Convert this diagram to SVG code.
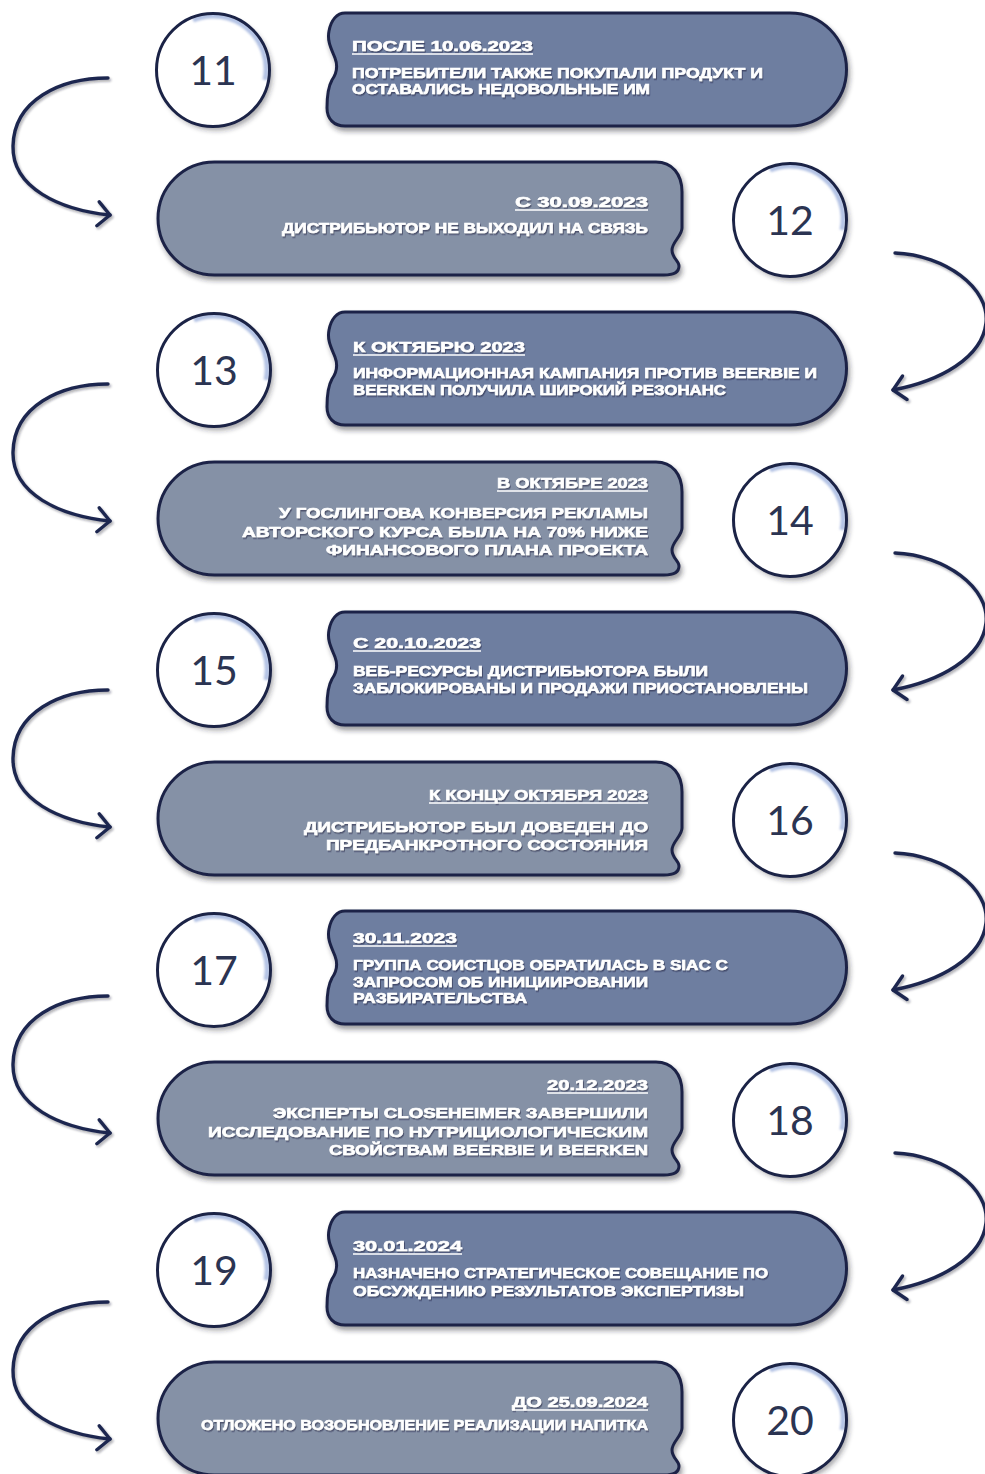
<svg xmlns="http://www.w3.org/2000/svg" xmlns:xlink="http://www.w3.org/1999/xlink" width="985" height="1474" viewBox="0 0 985 1474">
<style>
.odd{fill:#6e7ea0}
.even{fill:#8591a6}
.box{stroke:#1b2346;stroke-width:3;filter:url(#bshadow)}
.t{font-family:"Liberation Sans",Arial,sans-serif;font-weight:bold;fill:#ffffff;stroke:#ffffff;stroke-width:0.6;filter:url(#tshadow)}
.h{font-size:15.5px}
.b{font-size:14.5px}
.ul{stroke:#ffffff;stroke-width:1.5}
.num{font-family:Lato,"Open Sans","Liberation Sans",sans-serif;font-weight:400;font-size:41px;fill:#2b3452;text-anchor:middle}
.arrow{fill:none;stroke:#1f2850;stroke-width:3.4;stroke-linecap:round;filter:url(#ashadow)}
</style>
<defs>
<filter id="bshadow" x="-10%" y="-20%" width="120%" height="150%">
<feDropShadow dx="2" dy="4" stdDeviation="2.5" flood-color="#20242e" flood-opacity="0.45"/>
</filter>
<filter id="cshadow" x="-20%" y="-20%" width="150%" height="150%">
<feDropShadow dx="3" dy="4" stdDeviation="2.5" flood-color="#20242e" flood-opacity="0.4"/>
</filter>
<filter id="tshadow" x="-5%" y="-30%" width="110%" height="170%">
<feDropShadow dx="1" dy="1.5" stdDeviation="0.7" flood-color="#1c2340" flood-opacity="0.55"/>
</filter>
<filter id="ashadow" x="-20%" y="-20%" width="140%" height="140%">
<feDropShadow dx="1.5" dy="2" stdDeviation="1.2" flood-color="#20242e" flood-opacity="0.35"/>
</filter>
<filter id="soft" x="-20%" y="-20%" width="140%" height="140%">
<feGaussianBlur stdDeviation="1.2"/>
</filter>
<marker id="head" markerUnits="userSpaceOnUse" markerWidth="30" markerHeight="30" refX="15" refY="14" orient="auto" viewBox="0 0 30 30">
<path d="M3,2 L15,14 L3,26" fill="none" stroke="#1f2850" stroke-width="3.4" stroke-linecap="round" stroke-linejoin="round"/>
</marker>
<path id="boxOdd" d="M345,0 H790 A56.5,56.5 0 0 1 790,113 H345 C334,113 327,106 327,95 C327,82 328,74 332,67 C337,60 338,53 335,45 C331,35 327,28 329,18 C331,7 337,0 345,0 Z"/>
<path id="boxEven" d="M214.5,0 H656 C672,0 682,12 682,30 V66 C682,74 672,80 672,88 C672,96 679,99 679,104 C679,110 674,113 664,113 H214.5 A56.5,56.5 0 0 1 214.5,0 Z"/>
<g id="circ">
<circle cx="0" cy="0" r="56.5" fill="#ffffff" filter="url(#cshadow)"/>
<path d="M-20,-50 A53,53 0 0 1 52,10" fill="none" stroke="#b3c2e4" stroke-width="5" filter="url(#soft)"/>
<circle cx="0" cy="0" r="56.5" fill="none" stroke="#1b2346" stroke-width="3"/>
</g>
</defs>
<rect width="985" height="1474" fill="#ffffff"/>

<g id="connectors">
<path class="arrow" marker-end="url(#head)" d="M108,78 C60,78 14,100 13,146 C12,188 60,210 110,215"/>
<path class="arrow" marker-end="url(#head)" d="M895,253 C945,255 990,288 986,323 C982,358 940,381 893,390"/>
<path class="arrow" marker-end="url(#head)" d="M108,384 C60,384 14,406 13,452 C12,494 60,516 110,521"/>
<path class="arrow" marker-end="url(#head)" d="M895,553 C945,555 990,588 986,623 C982,658 940,681 893,690"/>
<path class="arrow" marker-end="url(#head)" d="M108,690 C60,690 14,712 13,758 C12,800 60,822 110,827"/>
<path class="arrow" marker-end="url(#head)" d="M895,853 C945,855 990,888 986,923 C982,958 940,981 893,990"/>
<path class="arrow" marker-end="url(#head)" d="M108,996 C60,996 14,1018 13,1064 C12,1106 60,1128 110,1133"/>
<path class="arrow" marker-end="url(#head)" d="M895,1153 C945,1155 990,1188 986,1223 C982,1258 940,1281 893,1290"/>
<path class="arrow" marker-end="url(#head)" d="M108,1302 C60,1302 14,1324 13,1370 C12,1412 60,1434 110,1439"/>
</g>

<g id="node-11">
<use href="#circ" x="213" y="70"/>
<text class="num" x="213" y="85">11</text>
<use href="#boxOdd" y="13" class="box odd"/>
<text class="t h" x="352" y="51" textLength="181" lengthAdjust="spacingAndGlyphs">ПОСЛЕ 10.06.2023</text>
<line class="ul" x1="352" y1="54" x2="533" y2="54"/>
<text class="t b" x="352" y="78" textLength="411" lengthAdjust="spacingAndGlyphs">ПОТРЕБИТЕЛИ ТАКЖЕ ПОКУПАЛИ ПРОДУКТ И</text>
<text class="t b" x="352" y="94" textLength="298" lengthAdjust="spacingAndGlyphs">ОСТАВАЛИСЬ НЕДОВОЛЬНЫЕ ИМ</text>
</g>

<g id="node-12">
<use href="#circ" x="790" y="220"/>
<text class="num" x="790" y="235">12</text>
<use href="#boxEven" y="162" class="box even"/>
<text class="t h" x="515" y="207" textLength="133" lengthAdjust="spacingAndGlyphs">С 30.09.2023</text>
<line class="ul" x1="515" y1="210" x2="648" y2="210"/>
<text class="t b" x="282" y="233" textLength="366" lengthAdjust="spacingAndGlyphs">ДИСТРИБЬЮТОР НЕ ВЫХОДИЛ НА СВЯЗЬ</text>
</g>

<g id="node-13">
<use href="#circ" x="214" y="370"/>
<text class="num" x="214" y="385">13</text>
<use href="#boxOdd" y="312" class="box odd"/>
<text class="t h" x="353" y="352" textLength="172" lengthAdjust="spacingAndGlyphs">К ОКТЯБРЮ 2023</text>
<line class="ul" x1="353" y1="355" x2="525" y2="355"/>
<text class="t b" x="353" y="378" textLength="464" lengthAdjust="spacingAndGlyphs">ИНФОРМАЦИОННАЯ КАМПАНИЯ ПРОТИВ BEERBIE И</text>
<text class="t b" x="353" y="395" textLength="373" lengthAdjust="spacingAndGlyphs">BEERKEN ПОЛУЧИЛА ШИРОКИЙ РЕЗОНАНС</text>
</g>

<g id="node-14">
<use href="#circ" x="790" y="520"/>
<text class="num" x="790" y="535">14</text>
<use href="#boxEven" y="462" class="box even"/>
<text class="t h" x="497" y="488" textLength="151" lengthAdjust="spacingAndGlyphs">В ОКТЯБРЕ 2023</text>
<line class="ul" x1="497" y1="491" x2="648" y2="491"/>
<text class="t b" x="279" y="518" textLength="369" lengthAdjust="spacingAndGlyphs">У ГОСЛИНГОВА КОНВЕРСИЯ РЕКЛАМЫ</text>
<text class="t b" x="242" y="537" textLength="406" lengthAdjust="spacingAndGlyphs">АВТОРСКОГО КУРСА БЫЛА НА 70% НИЖЕ</text>
<text class="t b" x="326" y="555" textLength="322" lengthAdjust="spacingAndGlyphs">ФИНАНСОВОГО ПЛАНА ПРОЕКТА</text>
</g>

<g id="node-15">
<use href="#circ" x="214" y="670"/>
<text class="num" x="214" y="685">15</text>
<use href="#boxOdd" y="612" class="box odd"/>
<text class="t h" x="353" y="648" textLength="128" lengthAdjust="spacingAndGlyphs">С 20.10.2023</text>
<line class="ul" x1="353" y1="651" x2="481" y2="651"/>
<text class="t b" x="353" y="676" textLength="355" lengthAdjust="spacingAndGlyphs">ВЕБ-РЕСУРСЫ ДИСТРИБЬЮТОРА БЫЛИ</text>
<text class="t b" x="353" y="693" textLength="455" lengthAdjust="spacingAndGlyphs">ЗАБЛОКИРОВАНЫ И ПРОДАЖИ ПРИОСТАНОВЛЕНЫ</text>
</g>

<g id="node-16">
<use href="#circ" x="790" y="820"/>
<text class="num" x="790" y="835">16</text>
<use href="#boxEven" y="762" class="box even"/>
<text class="t h" x="429" y="800" textLength="219" lengthAdjust="spacingAndGlyphs">К КОНЦУ ОКТЯБРЯ 2023</text>
<line class="ul" x1="429" y1="803" x2="648" y2="803"/>
<text class="t b" x="304" y="832" textLength="344" lengthAdjust="spacingAndGlyphs">ДИСТРИБЬЮТОР БЫЛ ДОВЕДЕН ДО</text>
<text class="t b" x="326" y="850" textLength="322" lengthAdjust="spacingAndGlyphs">ПРЕДБАНКРОТНОГО СОСТОЯНИЯ</text>
</g>

<g id="node-17">
<use href="#circ" x="214" y="970"/>
<text class="num" x="214" y="985">17</text>
<use href="#boxOdd" y="911" class="box odd"/>
<text class="t h" x="353" y="943" textLength="104" lengthAdjust="spacingAndGlyphs">30.11.2023</text>
<line class="ul" x1="353" y1="946" x2="457" y2="946"/>
<text class="t b" x="353" y="970" textLength="375" lengthAdjust="spacingAndGlyphs">ГРУППА СОИСТЦОВ ОБРАТИЛАСЬ В SIAC С</text>
<text class="t b" x="353" y="987" textLength="295" lengthAdjust="spacingAndGlyphs">ЗАПРОСОМ ОБ ИНИЦИИРОВАНИИ</text>
<text class="t b" x="353" y="1003" textLength="174" lengthAdjust="spacingAndGlyphs">РАЗБИРАТЕЛЬСТВА</text>
</g>

<g id="node-18">
<use href="#circ" x="790" y="1120"/>
<text class="num" x="790" y="1135">18</text>
<use href="#boxEven" y="1062" class="box even"/>
<text class="t h" x="547" y="1090" textLength="101" lengthAdjust="spacingAndGlyphs">20.12.2023</text>
<line class="ul" x1="547" y1="1093" x2="648" y2="1093"/>
<text class="t b" x="273" y="1118" textLength="375" lengthAdjust="spacingAndGlyphs">ЭКСПЕРТЫ CLOSEHEIMER ЗАВЕРШИЛИ</text>
<text class="t b" x="208" y="1137" textLength="440" lengthAdjust="spacingAndGlyphs">ИССЛЕДОВАНИЕ ПО НУТРИЦИОЛОГИЧЕСКИМ</text>
<text class="t b" x="329" y="1155" textLength="319" lengthAdjust="spacingAndGlyphs">СВОЙСТВАМ BEERBIE И BEERKEN</text>
</g>

<g id="node-19">
<use href="#circ" x="214" y="1270"/>
<text class="num" x="214" y="1285">19</text>
<use href="#boxOdd" y="1212" class="box odd"/>
<text class="t h" x="353" y="1251" textLength="109" lengthAdjust="spacingAndGlyphs">30.01.2024</text>
<line class="ul" x1="353" y1="1254" x2="462" y2="1254"/>
<text class="t b" x="353" y="1278" textLength="415" lengthAdjust="spacingAndGlyphs">НАЗНАЧЕНО СТРАТЕГИЧЕСКОЕ СОВЕЩАНИЕ ПО</text>
<text class="t b" x="353" y="1296" textLength="391" lengthAdjust="spacingAndGlyphs">ОБСУЖДЕНИЮ РЕЗУЛЬТАТОВ ЭКСПЕРТИЗЫ</text>
</g>

<g id="node-20">
<use href="#circ" x="790" y="1420"/>
<text class="num" x="790" y="1435">20</text>
<use href="#boxEven" y="1362" class="box even"/>
<text class="t h" x="512" y="1407" textLength="136" lengthAdjust="spacingAndGlyphs">ДО 25.09.2024</text>
<line class="ul" x1="512" y1="1410" x2="648" y2="1410"/>
<text class="t b" x="201" y="1430" textLength="447" lengthAdjust="spacingAndGlyphs">ОТЛОЖЕНО ВОЗОБНОВЛЕНИЕ РЕАЛИЗАЦИИ НАПИТКА</text>
</g>
</svg>
